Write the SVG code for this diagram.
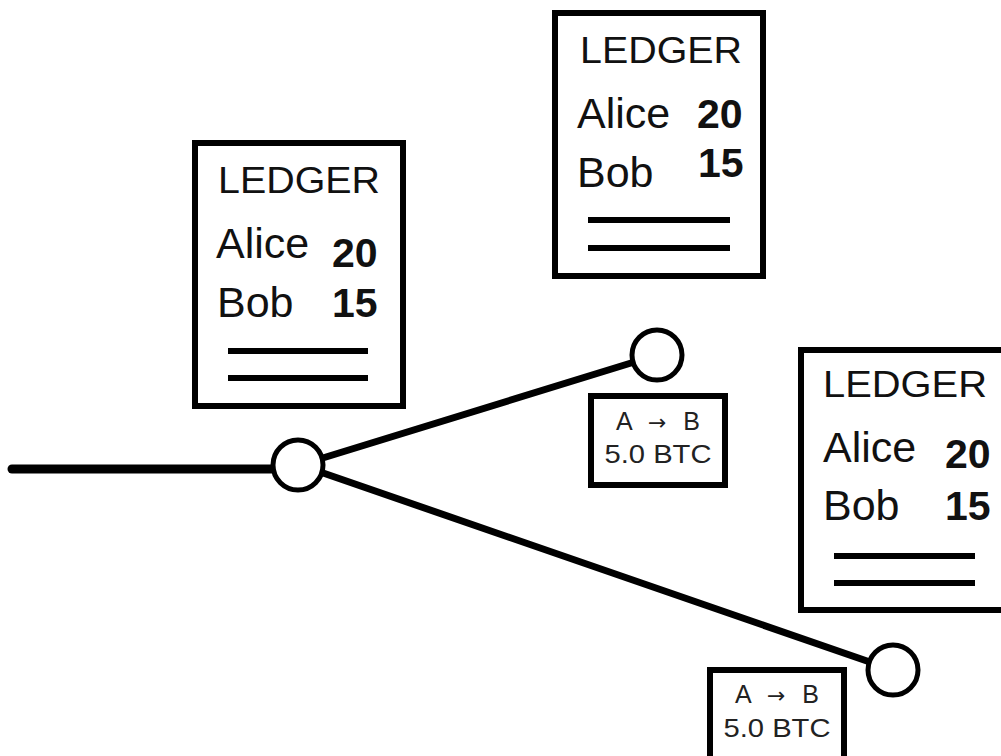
<svg xmlns="http://www.w3.org/2000/svg" width="1001" height="756" viewBox="0 0 1001 756">
<style>
.box{fill:#fff;stroke:#000;stroke-width:6}
.node{fill:#fff;stroke:#000;stroke-width:5}
.rule{stroke:#000;stroke-width:6}
.edge{stroke:#000;stroke-width:7;stroke-linecap:round;fill:none}
.t{font-family:"Liberation Sans",Arial,sans-serif;fill:#111}
.h{font-size:37px}
.n{font-size:43px}
.b{font-size:41px;font-weight:bold}
.tx{font-size:25px;text-anchor:middle;fill:#222}
.ar{font-family:"DejaVu Sans",sans-serif;font-size:22px}
</style>
<g id="connectors">
<line class="edge" x1="12" y1="469" x2="275" y2="469" style="stroke-width:9"/>
<line class="edge" x1="300" y1="465" x2="657" y2="355"/>
<line class="edge" x1="300" y1="465" x2="893" y2="670"/>
</g>
<g id="ledger1">
<rect class="box" x="195" y="143" width="208" height="263"/>
<text class="t h" x="218" y="193" textLength="162" lengthAdjust="spacingAndGlyphs">LEDGER</text>
<text class="t n" x="216" y="258">Alice</text>
<text class="t b" x="332" y="267">20</text>
<text class="t n" x="217" y="317">Bob</text>
<text class="t b" x="332" y="317">15</text>
<line class="rule" x1="228" y1="351" x2="368" y2="351"/>
<line class="rule" x1="228" y1="378" x2="368" y2="378"/>
</g>
<g id="ledger2">
<rect class="box" x="555" y="13" width="208" height="263"/>
<text class="t h" x="580" y="63" textLength="162" lengthAdjust="spacingAndGlyphs">LEDGER</text>
<text class="t n" x="577" y="128">Alice</text>
<text class="t b" x="697" y="128">20</text>
<text class="t n" x="577" y="187">Bob</text>
<text class="t b" x="698" y="177">15</text>
<line class="rule" x1="588" y1="220" x2="730" y2="220"/>
<line class="rule" x1="588" y1="248" x2="730" y2="248"/>
</g>
<g id="ledger3">
<rect class="box" x="801" y="350" width="208" height="260"/>
<text class="t h" x="823" y="397" textLength="164" lengthAdjust="spacingAndGlyphs">LEDGER</text>
<text class="t n" x="823" y="462">Alice</text>
<text class="t b" x="945" y="468">20</text>
<text class="t n" x="823" y="520">Bob</text>
<text class="t b" x="945" y="520">15</text>
<line class="rule" x1="834" y1="556" x2="975" y2="556"/>
<line class="rule" x1="834" y1="583" x2="975" y2="583"/>
</g>
<g id="node-root">
<circle class="node" cx="298" cy="465" r="25"/>
</g>
<g id="node-a">
<circle class="node" cx="657" cy="355" r="25"/>
</g>
<g id="node-b">
<circle class="node" cx="893" cy="670" r="25"/>
</g>
<g id="tx1">
<rect class="box" x="591" y="396" width="134" height="89"/>
<text class="t tx" x="658" y="430" textLength="84" lengthAdjust="spacing">A <tspan class="ar">→</tspan> B</text>
<text class="t tx" x="658" y="463" textLength="107" lengthAdjust="spacingAndGlyphs">5.0 BTC</text>
</g>
<g id="tx2">
<rect class="box" x="710" y="670" width="134" height="90"/>
<text class="t tx" x="777" y="703" textLength="84" lengthAdjust="spacing">A <tspan class="ar">→</tspan> B</text>
<text class="t tx" x="777" y="737" textLength="107" lengthAdjust="spacingAndGlyphs">5.0 BTC</text>
</g>
</svg>
